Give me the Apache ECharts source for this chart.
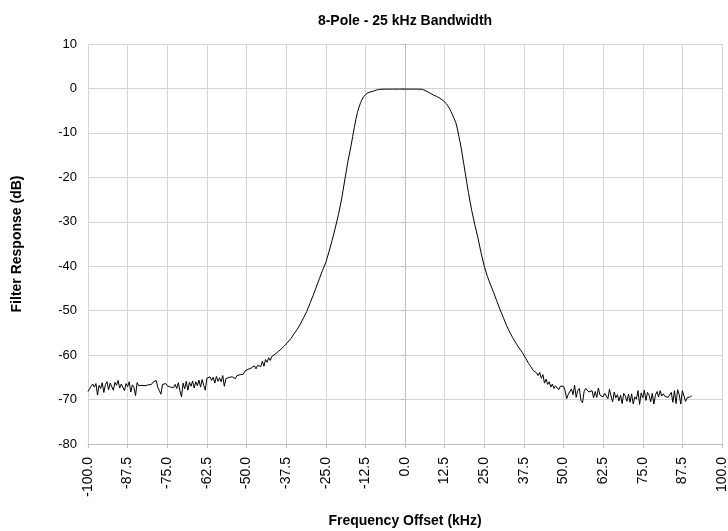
<!DOCTYPE html>
<html>
<head>
<meta charset="utf-8">
<script src="https://cdn.jsdelivr.net/npm/echarts@6/dist/echarts.min.js"></script>
<style>html,body{margin:0;padding:0;background:#fff}#c{width:728px;height:531px}</style>
</head>
<body>
<div id="c"></div>
<script>
// Left stopband (noisy), -100 .. -36.5 kHz, 0.5 kHz step
const leftStart = -100, leftStep = 0.5;
const leftDb = [
-68.2,-67.6,-67.0,-66.5,-67.2,-66.4,-69.0,-66.8,-67.5,-66.2,
-68.4,-66.6,-66.0,-67.8,-66.3,-65.9,-67.9,-66.1,-66.8,-65.7,
-67.4,-66.5,-66.9,-68.0,-66.4,-67.1,-66.0,-68.3,-66.7,-67.3,
-69.1,-66.2,-66.9,-67.0,-66.8,-66.6,-66.9,-66.5,-66.7,-66.3,
-66.6,-66.1,-66.4,-65.7,-67.2,-67.0,-68.8,-66.6,-67.0,-66.4,
-66.9,-66.5,-67.2,-66.8,-67.3,-66.6,-67.5,-66.2,-68.0,-69.4,
-66.3,-67.6,-65.9,-67.9,-66.1,-67.0,-65.8,-67.4,-66.0,-66.9,
-65.6,-67.2,-65.5,-66.8,-67.9,-65.2,-65.6,-64.9,-65.7,-65.0,
-66.3,-64.8,-65.9,-65.1,-66.0,-64.6,-67.0,-65.3,-65.6,-65.0,
-65.2,-64.9,-65.0,-65.3,-64.6,-64.2,-64.4,-64.0,-64.3,-63.6,
-63.8,-63.2,-63.6,-62.9,-63.0,-62.4,-63.1,-62.3,-62.0,-62.6,
-61.4,-62.5,-61.0,-61.6,-60.6,-61.2,-60.3,-60.6,-59.8,-60.2,
-59.2,-59.5,-58.6,-58.9,-57.9,-57.6,-57.1,-56.9
];
// Passband and skirts
const midFreq = [-36,-35,-34,-33,-32,-31,-30,-29,-28,-27,-26,-25,-24,-23,-22,-21,-20,-19,-18,-17,-16.5,-16,-15.5,-15,-14.5,-14,-13.5,-13,-12.5,-12,-11,-10,-9,-8,-6,-4,-2,0,2,4,5.5,6,7,8,9,10,11,12,13,13.5,14,14.5,15,15.5,16,16.5,17,17.5,18,18.5,19,19.5,20,21,22,23,24,25,26,27,28,29,30,31,32,33,34,35,36,37,38];
const midDb = [-56.3,-55.2,-54.2,-53.0,-51.6,-50.2,-48.4,-46.6,-44.7,-42.8,-40.9,-39.2,-36.8,-34.2,-31.4,-28.4,-24.9,-20.6,-16.4,-12.8,-10.8,-8.8,-7.0,-5.4,-4.2,-3.2,-2.4,-1.8,-1.4,-1.1,-0.8,-0.6,-0.35,-0.2,-0.15,-0.15,-0.15,-0.15,-0.15,-0.15,-0.2,-0.3,-0.7,-1.1,-1.5,-1.8,-2.2,-2.7,-3.4,-3.9,-4.5,-5.2,-6.0,-6.8,-7.6,-9.0,-10.8,-12.5,-14.6,-16.8,-19.0,-21.2,-23.4,-27.3,-30.6,-33.6,-37.0,-40.0,-42.3,-44.2,-46.0,-47.9,-49.8,-51.5,-53.3,-54.8,-56.1,-57.3,-58.4,-59.4,-60.6];
// Right stopband (noisy), 39 .. 90.5 kHz, 0.5 kHz step
const rightStart = 39, rightStep = 0.5;
const rightDb = [
-61.9,-62.4,-62.3,-63.5,-63.2,-64.0,-64.6,-63.9,-65.2,-64.4,
-66.3,-65.4,-66.6,-66.0,-67.2,-66.5,-67.5,-66.9,-67.1,-67.8,
-67.0,-66.6,-67.0,-68.0,-69.8,-68.8,-69.0,-67.6,-68.9,-66.8,
-69.5,-68.0,-67.5,-70.2,-70.7,-68.2,-67.5,-67.8,-68.3,-67.9,
-68.0,-69.6,-68.2,-69.5,-67.4,-69.0,-68.8,-69.4,-68.6,-68.2,
-69.8,-67.7,-69.2,-70.5,-68.3,-69.6,-68.9,-70.3,-69.0,-70.9,
-68.6,-69.2,-70.4,-68.8,-70.6,-68.7,-71.0,-69.4,-69.9,-68.0,
-71.1,-68.5,-69.6,-67.9,-70.2,-68.4,-69.0,-70.5,-68.6,-71.0,
-69.0,-68.2,-69.4,-68.0,-69.2,-68.7,-69.3,-69.0,-69.5,-69.1,
-68.4,-70.6,-68.0,-70.9,-67.8,-68.9,-71.0,-68.0,-67.6,-70.4,
-69.6,-69.3,-69.4,-69.1
];
const xTicks = [-100,-87.5,-75,-62.5,-50,-37.5,-25,-12.5,0,12.5,25,37.5,50,62.5,75,87.5,100];
const yTicks = [-80,-70,-60,-50,-40,-30,-20,-10,0,10];

const data = [];
leftDb.forEach((v,i)=>data.push([leftStart + i*leftStep, v]));
midFreq.forEach((f,i)=>data.push([f, midDb[i]]));
rightDb.forEach((v,i)=>data.push([rightStart + i*rightStep, v]));

const font = 'Liberation Sans, Arial, sans-serif';
const chart = echarts.init(document.getElementById('c'));
chart.setOption({
  animation: false,
  backgroundColor: '#fff',
  title: {
    text: '8-Pole - 25 kHz Bandwidth',
    left: 400, top: 9, textAlign: 'center',
    textStyle: {fontFamily: font, fontSize: 14, fontWeight: 'bold', color: '#000'}
  },
  grid: {left: 88, right: 6, top: 44, bottom: 87, containLabel: false, outerBoundsMode: 'none'},
  xAxis: {
    type: 'value', min: -100, max: 100, interval: 12.5,
    name: 'Frequency Offset (kHz)', nameLocation: 'middle', nameGap: 70,
    nameTextStyle: {fontFamily: font, fontSize: 14, fontWeight: 'bold', color: '#000'},
    axisLine: {show: true, onZero: false, lineStyle: {color: '#bdbdbd'}},
    axisTick: {show: true, length: 4, lineStyle: {color: '#bdbdbd'}},
    axisLabel: {rotate: 90, margin: 13, fontFamily: font, fontSize: 14, color: '#000',
      formatter: v => xTicks.includes(v) ? v.toFixed(1) : ''},
    splitLine: {show: true, lineStyle: {color: '#d4d4d4'}}
  },
  yAxis: {
    type: 'value', min: -80, max: 10, interval: 10,
    name: 'Filter Response (dB)', nameLocation: 'middle', nameGap: 64, nameRotate: 90,
    nameTextStyle: {fontFamily: font, fontSize: 14, fontWeight: 'bold', color: '#000'},
    axisLine: {show: true, lineStyle: {color: '#bdbdbd'}},
    axisTick: {show: true, length: 4, lineStyle: {color: '#bdbdbd'}},
    axisLabel: {margin: 11, fontFamily: font, fontSize: 13, color: '#000',
      formatter: v => yTicks.includes(v) ? String(v) : ''},
    splitLine: {show: true, lineStyle: {color: '#d4d4d4'}}
  },
  series: [{
    type: 'line', data: data, showSymbol: false, symbol: 'none',
    lineStyle: {color: '#000', width: 1}, smooth: false
  }]
});
</script>
</body>
</html>
